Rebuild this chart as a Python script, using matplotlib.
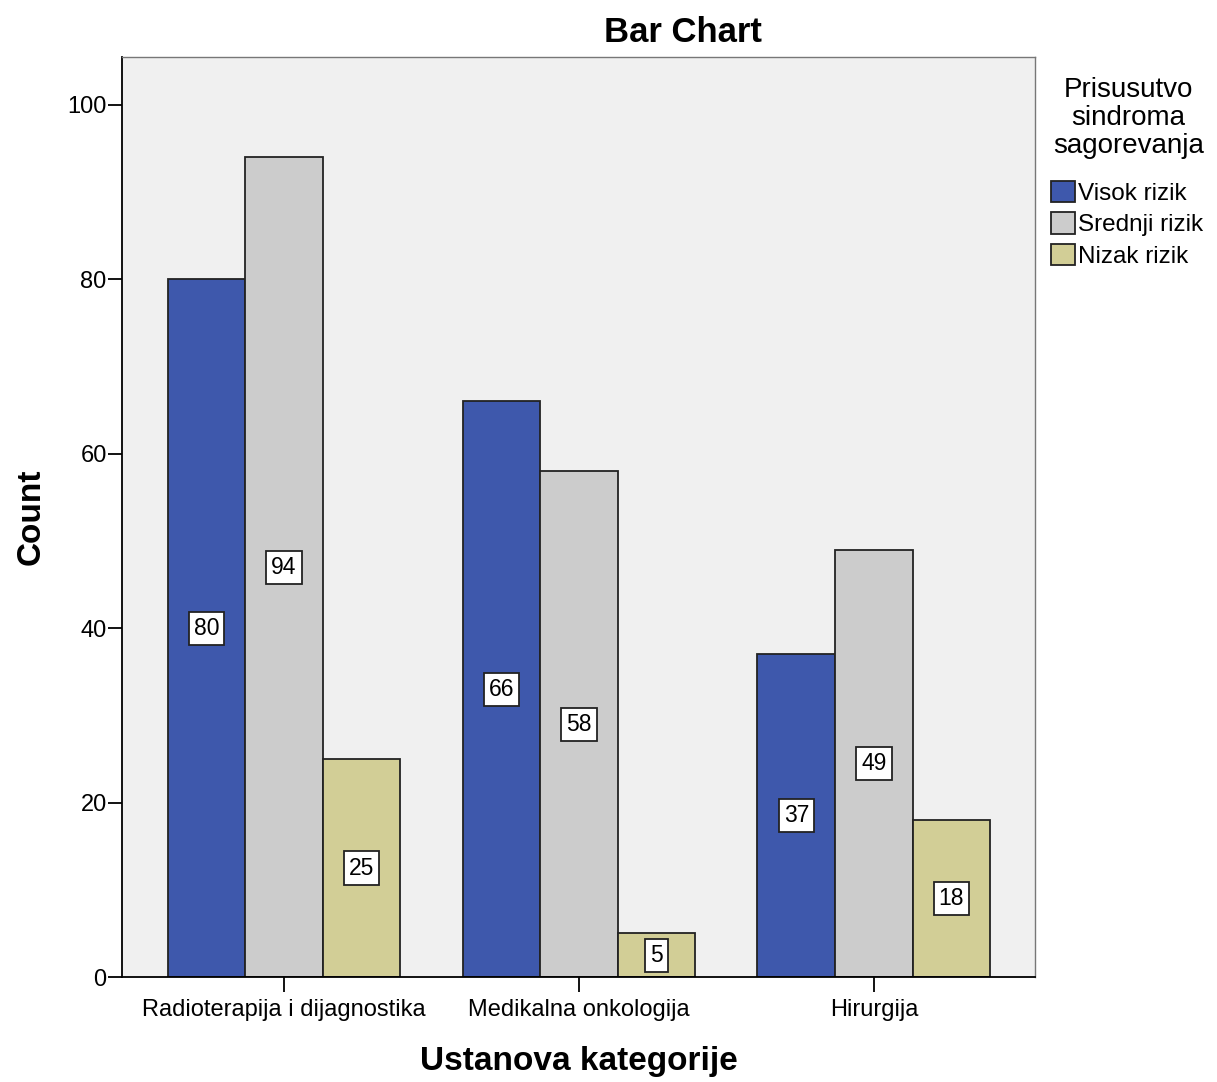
import matplotlib
matplotlib.use("Agg")
import matplotlib.pyplot as plt
import numpy as np
from matplotlib.patches import Patch

categories = ["Radioterapija i dijagnostika", "Medikalna onkologija", "Hirurgija"]
series_names = ["Visok rizik", "Srednji rizik", "Nizak rizik"]
visok = [80, 66, 37]
srednji = [94, 58, 49]
nizak = [25, 5, 18]
colors = ["#3E58AC", "#CCCCCC", "#D2CE96"]

plt.rcParams['font.family'] = ['Liberation Sans', 'DejaVu Sans']

fig = plt.figure(figsize=(12.17, 10.82), dpi=100)
ax = fig.add_axes([0.1002, 0.0970, 0.7502, 0.8503])
ax.set_facecolor("#F0F0F0")

x = np.arange(len(categories))
w = 0.263
all_series = [visok, srednji, nizak]
for i, (vals, col) in enumerate(zip(all_series, colors)):
    pos = x + (i - 1) * w
    ax.bar(pos, vals, width=w, color=col, edgecolor="#222222", linewidth=1.3, zorder=2)
    for p, v in zip(pos, vals):
        ax.text(p, v / 2, str(v), ha="center", va="center", fontsize=16.5, zorder=3,
                bbox=dict(boxstyle="square,pad=0.22", facecolor="white", edgecolor="#222222", linewidth=1.3))

ax.set_xlim(-0.549, 2.546)
ax.set_ylim(0, 105.5)
ax.set_xticks(x)
ax.set_xticklabels(categories, fontsize=17)
ax.set_yticks([0, 20, 40, 60, 80, 100])
ax.tick_params(axis="y", labelsize=17, length=10, width=1.3, pad=1)
ax.tick_params(axis="x", length=11, width=1.3, pad=5)
for s in ["left", "bottom"]:
    ax.spines[s].set_color("black")
    ax.spines[s].set_linewidth(1.3)
for s in ["top", "right"]:
    ax.spines[s].set_color("#777777")
    ax.spines[s].set_linewidth(1.0)

ax.set_xlabel("Ustanova kategorije", fontsize=24, fontweight="bold", labelpad=18)
ax.set_ylabel("Count", fontsize=24, fontweight="bold", labelpad=15)

fig.text(0.561, 0.970, "Bar Chart", ha="center", va="center", fontsize=25, fontweight="bold")

fig.text(0.927, 0.891, "Prisusutvo\nsindroma\nsagorevanja", ha="center", va="center",
         fontsize=20, linespacing=1.12)
handles = [Patch(facecolor=c, edgecolor="#222222", linewidth=1.3) for c in colors]
fig.legend(handles, series_names, loc="upper left", bbox_to_anchor=(0.864, 0.833),
           frameon=False, fontsize=17.5, handlelength=0.95, handleheight=1.0,
           handletextpad=0.15, labelspacing=0.3, borderpad=0, borderaxespad=0)

fig.savefig("out.png", dpi=100)
